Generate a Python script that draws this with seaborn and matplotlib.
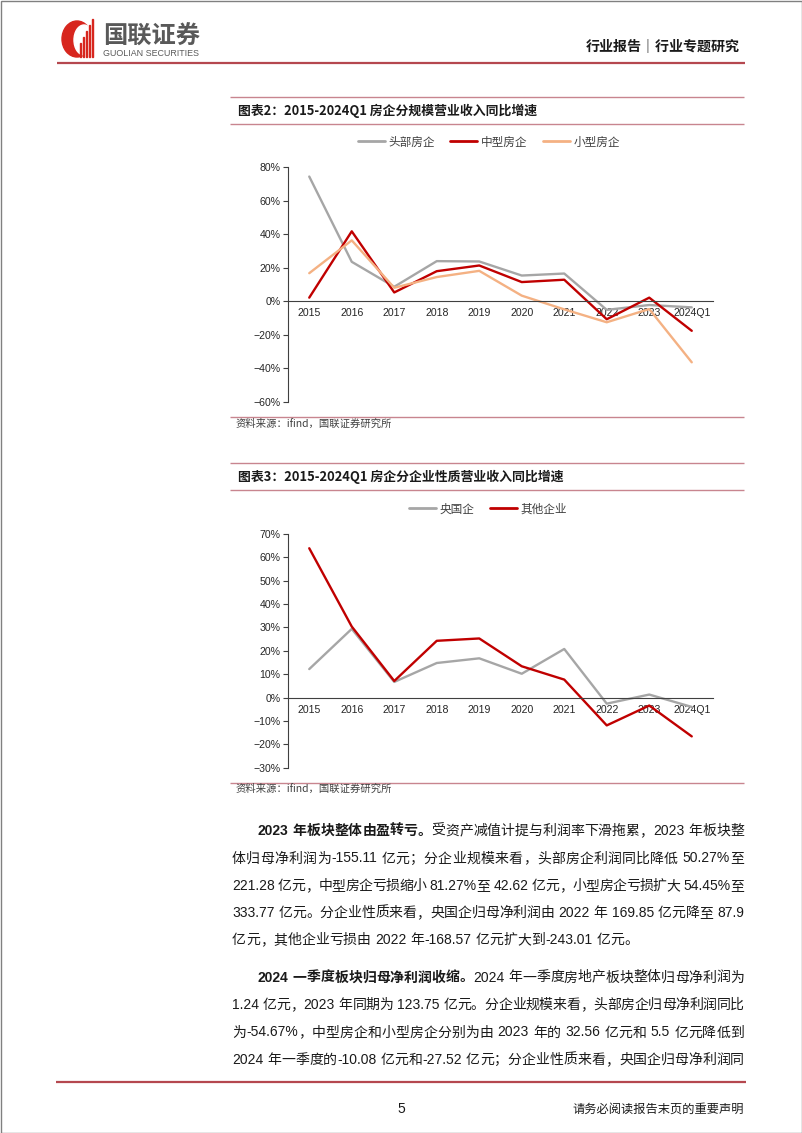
import matplotlib
matplotlib.use("Agg")
import matplotlib.pyplot as plt
import matplotlib.patches as mpatches
from matplotlib.ticker import FuncFormatter, MultipleLocator, FixedLocator
import numpy as np
import pandas as pd
import seaborn as sns

# ---- data (% yoy) ----
years = ["2015", "2016", "2017", "2018", "2019", "2020", "2021", "2022", "2023", "2024Q1"]

top_firms = [74.3, 23.4, 8.5, 23.8, 23.6, 15.2, 16.4, -5.3, -2.4, -3.8]
mid_firms = [2.0, 41.6, 5.1, 17.8, 21.2, 11.3, 12.7, -10.9, 2.0, -17.8]
small_firms = [16.6, 36.2, 7.9, 14.3, 18.0, 3.2, -5.0, -12.7, -4.8, -36.6]
scale_names = ["头部房企", "中型房企", "小型房企"]

soe_firms = [12.2, 29.4, 6.7, 14.8, 16.8, 10.2, 20.8, -2.6, 1.3, -4.0]
other_firms = [63.9, 30.4, 7.1, 24.3, 25.3, 13.4, 7.7, -11.9, -3.4, -16.6]
nature_names = ["央国企", "其他企业"]

GRAY, RED, ORANGE = "#A6A6A6", "#C00000", "#F4B183"

para1 = [
    [("2023 年板块整体由盈转亏。", True), ("受资产减值计提与利润率下滑拖累，2023 年板块整", False)],
    [("体归母净利润为-155.11 亿元；分企业规模来看，头部房企利润同比降低 50.27%至", False)],
    [("221.28 亿元，中型房企亏损缩小 81.27%至 42.62 亿元，小型房企亏损扩大 54.45%至", False)],
    [("333.77 亿元。分企业性质来看，央国企归母净利润由 2022 年 169.85 亿元降至 87.9", False)],
    [("亿元，其他企业亏损由 2022 年-168.57 亿元扩大到-243.01 亿元。", False)],
]
para2 = [
    [("2024 一季度板块归母净利润收缩。", True), ("2024 年一季度房地产板块整体归母净利润为", False)],
    [("1.24 亿元，2023 年同期为 123.75 亿元。分企业规模来看，头部房企归母净利润同比", False)],
    [("为-54.67%，中型房企和小型房企分别为由 2023 年的 32.56 亿元和 5.5 亿元降低到", False)],
    [("2024 年一季度的-10.08 亿元和-27.52 亿元；分企业性质来看，央国企归母净利润同", False)],
]

sns.set_theme(style="white")
CJK = ["Noto Sans CJK SC", "DejaVu Sans"]
MIX = ["Liberation Sans", "Noto Sans CJK SC", "DejaVu Sans"]
plt.rcParams["font.family"] = CJK
plt.rcParams["axes.unicode_minus"] = True

W, H = 802, 1133
fig = plt.figure(figsize=(W / 100, H / 100), dpi=100)
fig.patch.set_facecolor("white")

page = fig.add_axes([0, 0, 1, 1])
page.set_xlim(0, W)
page.set_ylim(H, 0)
page.axis("off")
renderer = fig.canvas.get_renderer()


def text_w(s, size, bold=False, family=MIX):
    t = page.text(0, 0, s, fontsize=size, fontweight="bold" if bold else "normal", family=family)
    w = t.get_window_extent(renderer=renderer).width
    t.remove()
    return w


def fit_text(x, y, s, width, bold=False, family=CJK, color="#262626", ha="left", base=10):
    size = base * width / text_w(s, base, bold, family)
    page.text(x, y, s, fontsize=size, fontweight="bold" if bold else "normal",
              family=family, color=color, ha=ha, va="center")


def hline(y, x0, x1, color, lw=1.0):
    page.plot([x0, x1], [y, y], color=color, lw=lw, solid_capstyle="butt")


def body_line(segs, y, x0, x1, justify=True, size=10):
    toks = []
    for s, bold in segs:
        buf = ""
        for ch in s:
            if ch == " " or ord(ch) >= 128:
                if buf:
                    toks.append((buf, bold))
                    buf = ""
                toks.append((ch, bold))
            else:
                buf += ch
        if buf:
            toks.append((buf, bold))
    widths = [size * 0.3 * 100 / 72 if t == " " else text_w(t, size, b) for t, b in toks]
    extra = 0
    if justify and len(toks) > 1:
        extra = (x1 - x0 - sum(widths)) / (len(toks) - 1)
    x = x0
    for (t, b), w in zip(toks, widths):
        if t != " ":
            page.text(x, y, t, fontsize=size, fontweight="bold" if b else "normal",
                      family=MIX, color="#1a1a1a", va="center", ha="left")
        x += w + extra


# ---- page frame, header, logo ----
page.add_patch(mpatches.Rectangle((0.5, 0.5), W - 1, H - 1, fill=False, ec="#808080", lw=1))
page.add_patch(mpatches.Ellipse((77, 39), 30, 36, color="#D7261E"))
page.add_patch(mpatches.Ellipse((84, 40), 20, 30, color="white"))
for bx, h in [(79.5, 14), (82.5, 20), (85.5, 26), (88.5, 32), (91.5, 38)]:
    page.add_patch(mpatches.Rectangle((bx, 57 - h), 1.8, h, color="#D7261E"))
fit_text(103, 37, "国联证券", 97, bold=True, color="#595959")
fit_text(103, 54, "GUOLIAN SECURITIES", 97, family=["Liberation Sans"], color="#595959", base=5)
fit_text(740, 47, "行业报告｜行业专题研究", 154, bold=True, ha="right", color="#1a1a1a")
hline(63, 57, 745, "#B5484F", 1.6)

PINK = "#C8858F"


def chart_frame(y_top, y_title, y_bottom, y_src, title, title_w):
    hline(y_top, 230, 744, PINK, 1.0)
    fit_text(238, y_title, title, title_w, bold=True, color="#1a1a1a")
    hline(y_title + 13, 230, 744, PINK, 1.0)
    hline(y_bottom, 230, 744, PINK, 1.0)
    fit_text(236, y_src, "资料来源：ifind，国联证券研究所", 156, color="#404040")


chart_frame(96.5, 110.5, 416.5, 424, "图表2：2015-2024Q1 房企分规模营业收入同比增速", 299)
chart_frame(462.5, 477, 782.5, 789, "图表3：2015-2024Q1 房企分企业性质营业收入同比增速", 326)


def add_chart(l, t, r, b, series, names, colors, ylim, step, legend_xy):
    ax = fig.add_axes([l / W, 1 - b / H, (r - l) / W, (b - t) / H])
    df = pd.DataFrame({
        "x": np.tile(np.arange(len(years)), len(series)),
        "value": np.concatenate(series),
        "series": np.repeat(names, len(years)),
    })
    sns.lineplot(data=df, x="x", y="value", hue="series", hue_order=names,
                 palette=dict(zip(names, colors)), lw=1.7, ax=ax, legend=True)
    ax.set_xlim(-0.5, len(years) - 0.5)
    ax.set_ylim(*ylim)
    ax.set_xlabel("")
    ax.set_ylabel("")
    ax.set_axisbelow(True)
    ax.patch.set_alpha(0)
    for side in ["top", "right"]:
        ax.spines[side].set_visible(False)
    ax.spines["bottom"].set_position(("data", 0))
    for side in ["bottom", "left"]:
        ax.spines[side].set_color("#404040")
        ax.spines[side].set_linewidth(0.8)
    ax.xaxis.set_major_locator(FixedLocator(np.arange(len(years))))
    ax.set_xticklabels(years)
    ax.xaxis.set_minor_locator(FixedLocator(np.arange(len(years)) + 0.5))
    ax.tick_params(axis="x", which="major", length=0, pad=5, labelsize=7.6, labelcolor="#262626")
    ax.tick_params(axis="x", which="minor", length=3, width=0.8, color="#404040", direction="out")
    ax.yaxis.set_major_locator(MultipleLocator(step))
    ax.yaxis.set_major_formatter(FuncFormatter(lambda v, p: f"{v:.0f}%".replace("-", "\u2212")))
    ax.tick_params(axis="y", length=3.5, width=0.8, color="#404040", direction="out",
                   left=True, pad=2, labelsize=7.6, labelcolor="#262626")
    for lab in ax.get_xticklabels() + ax.get_yticklabels():
        lab.set_family(MIX)
    old = ax.get_legend()
    handles = old.legend_handles
    labels = [tx.get_text() for tx in old.get_texts()]
    old.remove()
    leg = ax.legend(handles, labels, loc="center", bbox_to_anchor=(legend_xy[0] / W, 1 - legend_xy[1] / H),
                    bbox_transform=fig.transFigure, ncol=len(names), frameon=False,
                    prop={"family": CJK, "size": 8.4}, handlelength=2.3, handletextpad=0.35,
                    columnspacing=1.3, labelcolor="#404040")
    for hd in leg.legend_handles:
        hd.set_linewidth(2.0)
    return ax


add_chart(288, 167, 713, 401.5, [top_firms, mid_firms, small_firms], scale_names,
          [GRAY, RED, ORANGE], (-60, 80), 20, (489, 142))
add_chart(288, 534, 713, 767.7, [soe_firms, other_firms], nature_names,
          [GRAY, RED], (-30, 70), 10, (488, 509))

# ---- body text ----
L, R = 232, 744
ys1 = [831, 858.5, 886, 913, 940]
for i, (segs, y) in enumerate(zip(para1, ys1)):
    body_line(segs, y, 258 if i == 0 else L, R, justify=(i < len(para1) - 1))
ys2 = [977.5, 1005, 1032.5, 1060]
for i, (segs, y) in enumerate(zip(para2, ys2)):
    body_line(segs, y, 258 if i == 0 else L, R, justify=True)

# ---- footer ----
hline(1082, 56, 746, "#B5484F", 1.6)
page.text(401.5, 1109, "5", fontsize=10, family=MIX, ha="center", va="center", color="#1a1a1a")
fit_text(744, 1109, "请务必阅读报告末页的重要声明", 171, ha="right", color="#1a1a1a")

fig.savefig("out.png", dpi=100, facecolor="white")
